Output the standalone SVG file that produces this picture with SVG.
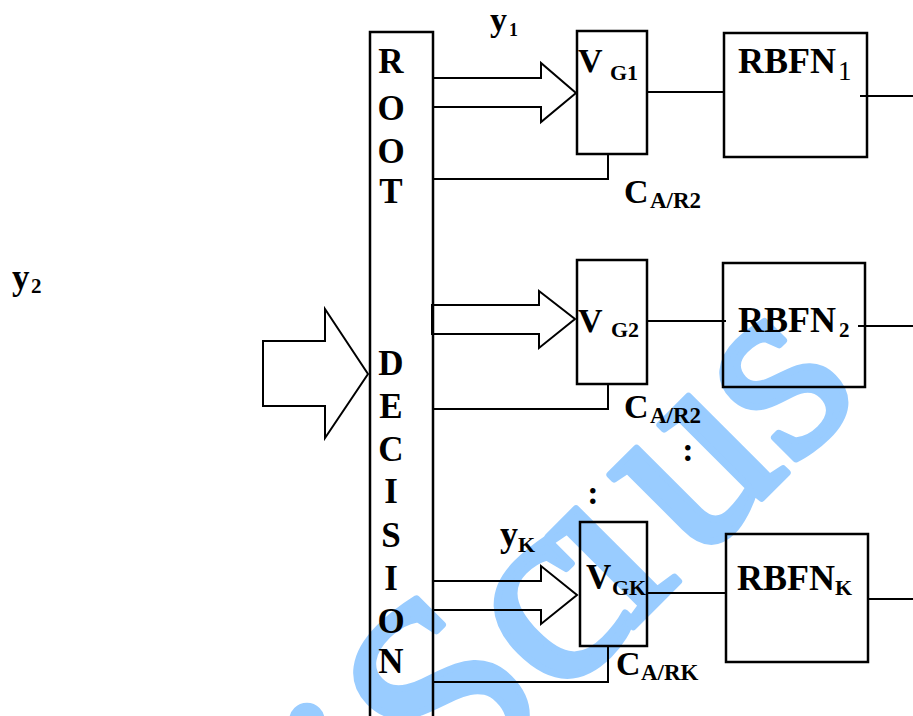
<svg xmlns="http://www.w3.org/2000/svg" width="913" height="716" viewBox="0 0 913 716">
<style>
text{font-family:"Liberation Serif","Times New Roman",serif;font-weight:bold;fill:#000}
.box{fill:none;stroke:#000;stroke-width:2.5}
.ln{fill:none;stroke:#000;stroke-width:2}
.arr{fill:none;stroke:#000;stroke-width:2;stroke-linejoin:miter}
.big{font-size:34px}
.mid{text-anchor:middle;font-size:35px}
.sub{font-size:22px}
.wm{font-family:"Liberation Serif","Times New Roman",serif;font-weight:normal;font-size:270px;fill:#99CCFF;stroke:#99CCFF;stroke-width:7;stroke-linejoin:round}
</style>
<rect width="913" height="716" fill="#fff"/>
<g id="watermark">
<text class="wm" transform="translate(398,862) rotate(-45)">iSc<tspan dx="-18">ı</tspan><tspan dx="18">us</tspan></text>
</g>
<g id="root-decision">
<rect class="box" x="370" y="32" width="63" height="720"/>
<text class="mid" x="391" y="73">R</text>
<text class="mid" x="391" y="120">O</text>
<text class="mid" x="391" y="163">O</text>
<text class="mid" x="391" y="203">T</text>
<text class="mid" x="391" y="375">D</text>
<text class="mid" x="391" y="418">E</text>
<text class="mid" x="391" y="461">C</text>
<text class="mid" x="391" y="503">I</text>
<text class="mid" x="391" y="547">S</text>
<text class="mid" x="391" y="590">I</text>
<text class="mid" x="391" y="633">O</text>
<text class="mid" x="391" y="673">N</text>
</g>
<g id="input">
<polygon class="arr" points="263,341 325,341 325,309 368,374 325,438 325,406 263,406"/>
<text x="12" y="289" style="font-size:35px">y</text><text x="31" y="293" style="font-size:21px">2</text>
</g>
<g id="vg1">
<rect class="box" x="577" y="31" width="70" height="123"/>
<text class="big" x="578" y="72">V</text><text class="sub" x="610" y="80">G1</text>
</g>
<g id="vg2">
<rect class="box" x="577" y="260" width="70" height="124"/>
<text class="big" x="578" y="332">V</text><text class="sub" x="611" y="337">G2</text>
</g>
<g id="vgk">
<rect class="box" x="580" y="522" width="67" height="124"/>
<text class="big" x="586" y="589" style="font-size:35px">V</text><text class="sub" x="612" y="595">GK</text>
</g>
<g id="rbfn1">
<rect class="box" x="724" y="33" width="143" height="124"/>
<text x="738" y="73" style="font-size:36px">RBFN</text><text x="838" y="80" style="font-size:27px;font-weight:normal">1</text>
</g>
<g id="rbfn2">
<rect class="box" x="723" y="263" width="142" height="124"/>
<text x="738" y="332" style="font-size:36px">RBFN</text><text x="839" y="337" style="font-size:21px">2</text>
</g>
<g id="rbfnk">
<rect class="box" x="726" y="534" width="142" height="128"/>
<text x="737" y="590" style="font-size:36px">RBFN</text><text x="835" y="595" style="font-size:22px">K</text>
</g>
<g id="labels">
<text x="490" y="31" style="font-size:34px">y</text><text x="509" y="36" style="font-size:18px">1</text>
<text x="500" y="546" style="font-size:36px">y</text><text x="518" y="552" style="font-size:22px">K</text>
<text class="big" x="624" y="203">C</text><text x="650" y="208" style="font-size:23px">A/R2</text>
<text class="big" x="624" y="418">C</text><text x="650" y="423" style="font-size:23px">A/R2</text>
<text class="big" x="616" y="675">C</text><text x="641" y="680" style="font-size:23px">A/RK</text>
<text class="big" x="688" y="461" text-anchor="middle">:</text>
<text class="big" x="593" y="504" text-anchor="middle">:</text>
</g>
<g id="connectors">
<polygon class="arr" points="433,78 541,78 541,63 576,93 541,122 541,107 433,107"/>
<polygon class="arr" points="432,305 539,305 539,291 575,319 539,348 539,334 432,334"/>
<polygon class="arr" points="433,581 541,581 541,566 577,595 541,624 541,610 433,610"/>
<path class="ln" d="M608,154 V179 H433"/>
<path class="ln" d="M608,384 V409 H433"/>
<path class="ln" d="M608,646 V682 H433"/>
<path class="ln" d="M647,92 H724"/>
<path class="ln" d="M647,321 H726"/>
<path class="ln" d="M647,593 H726"/>
<path class="ln" d="M860,96 H913"/>
<path class="ln" d="M858,326 H913"/>
<path class="ln" d="M868,599 H913"/>
</g>
</svg>
